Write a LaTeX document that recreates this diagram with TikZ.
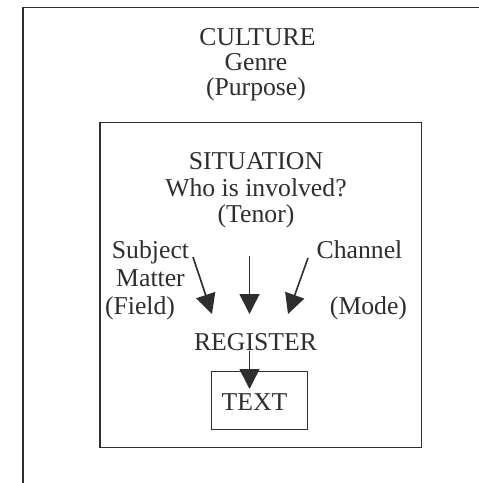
\documentclass[tikz,border=0pt]{standalone}
\usepackage{fontspec}
\setmainfont{Liberation Serif}
\usetikzlibrary{arrows.meta}
\definecolor{ink}{HTML}{2E2E2E}
\tikzset{
  lbl/.style={anchor=base, inner sep=0pt, text=ink, font=\fontsize{25.7}{25.5}\selectfont},
  frame/.style={draw=ink, line width=1.4pt},
  arr/.style={draw=ink, line width=1.6pt, -{Triangle[length=20pt,width=20pt]}}
}
\begin{document}
\begin{tikzpicture}[x=1pt,y=-1pt]
\useasboundingbox (0,0) rectangle (479,483);
\clip (0,0) rectangle (479,483);
\fill[white] (0,0) rectangle (479,483);
% outer frame (runs off the page)
\draw[frame] (23,490) -- (23,7.5) -- (490,7.5);
% inner frame
\node[frame, minimum width=321.5pt, minimum height=325pt, inner sep=0pt] (situationbox) at (260.75,285.25) {};
% text box
\node[frame, minimum width=96pt, minimum height=57.5pt, inner sep=0pt] (textbox) at (259.5,400.5) {};
% culture
\node[lbl] (culture) at (257.5,45) {CULTURE};
\node[lbl] (genre) at (256,70) {Genre};
\node[lbl] (purpose) at (256,95.5) {(Purpose)};
% situation
\node[lbl] (situation) at (256,169) {SITUATION};
\node[lbl] (who) at (256,196) {Who is involved?};
\node[lbl] (tenor) at (256,222) {(Tenor)};
% field side
\node[lbl] (subject) at (150.5,258) {Subject};
\node[lbl] (matter) at (150.5,286.5) {Matter};
\node[lbl] (field) at (140,314) {(Field)};
% mode side
\node[lbl] (channel) at (359.5,258) {Channel};
\node[lbl] (mode) at (368.5,314) {(Mode)};
% register & text
\node[lbl] (register) at (255.5,350) {REGISTER};
\node[lbl] (text) at (254.5,410) {TEXT};
% arrow ends
\coordinate (a1s) at (193,257);
\coordinate (a1e) at (212,314);
\coordinate (a2s) at (249.5,256);
\coordinate (a2e) at (249.5,314);
\coordinate (a3s) at (308,258);
\coordinate (a3e) at (288,314);
\coordinate (a4s) at (249.5,351);
\coordinate (a4e) at (249.5,389);
\draw[arr] (a1s) -- (a1e);
\draw[arr] (a2s) -- (a2e);
\draw[arr] (a3s) -- (a3e);
\draw[arr] (a4s) -- (a4e);
\end{tikzpicture}
\end{document}
